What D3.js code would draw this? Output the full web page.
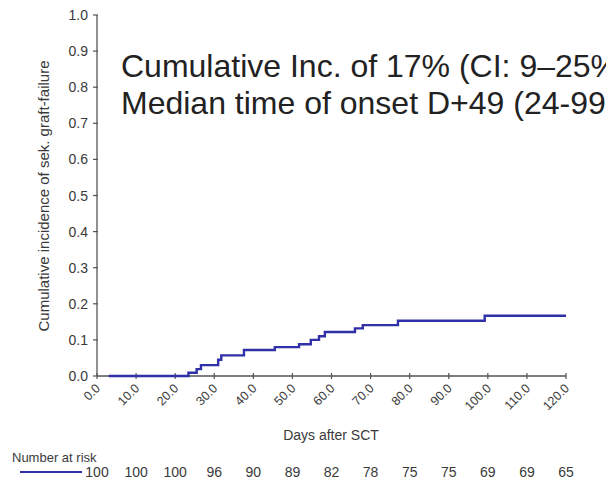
<!DOCTYPE html>
<html>
<head>
<meta charset="utf-8">
<script src="https://cdn.jsdelivr.net/npm/d3@7"></script>
<style>
  html, body { margin: 0; padding: 0; background: #fff; overflow: hidden; }
  svg { display: block; font-family: "Liberation Sans", Arial, sans-serif; }
</style>
</head>
<body>
<svg width="606" height="482"></svg>
<script>
// step points of the cumulative incidence curve
const days = [3, 23.4, 25.5, 26.6, 31.0, 31.8, 37.6, 45.5, 51.7, 54.7, 56.8, 58.3, 66, 68, 77, 99.2, 120];
const incidence = [0, 0.009, 0.019, 0.03, 0.045, 0.057, 0.072, 0.08, 0.088, 0.1, 0.11, 0.122, 0.132, 0.141, 0.153, 0.167, 0.167];

const xTicks = [0, 10, 20, 30, 40, 50, 60, 70, 80, 90, 100, 110, 120];
const yTicks = [0, 0.1, 0.2, 0.3, 0.4, 0.5, 0.6, 0.7, 0.8, 0.9, 1.0];
const atRisk = [100, 100, 100, 96, 90, 89, 82, 78, 75, 75, 69, 69, 65];

const noteLines = ["Cumulative Inc. of 17% (CI: 9\u201325%)", "Median time of onset D+49 (24-99)"];

const svg = d3.select("svg");

const x = d3.scaleLinear().domain([0, 120]).range([97, 566]);
const y = d3.scaleLinear().domain([0, 1]).range([376, 15]);

const axisColor = "#555";
const labelColor = "#3a3a3a";
const curveColor = "#3030a8";

// y axis
svg.append("line")
  .attr("x1", x(0)).attr("x2", x(0))
  .attr("y1", y(0)).attr("y2", y(1))
  .attr("stroke", axisColor).attr("stroke-width", 1.3);

svg.selectAll(".ytick")
  .data(yTicks)
  .enter()
  .append("line")
  .attr("x1", x(0) - 4).attr("x2", x(0) + 1)
  .attr("y1", d => y(d)).attr("y2", d => y(d))
  .attr("stroke", axisColor).attr("stroke-width", 1.2);

svg.selectAll(".ylab")
  .data(yTicks)
  .enter()
  .append("text")
  .attr("x", 88)
  .attr("y", d => y(d) + 5)
  .attr("text-anchor", "end")
  .attr("font-size", 14)
  .attr("fill", labelColor)
  .text(d => d.toFixed(1));

svg.append("text")
  .attr("transform", "translate(49,196) rotate(-90)")
  .attr("text-anchor", "middle")
  .attr("font-size", 15)
  .attr("fill", labelColor)
  .text("Cumulative incidence of sek. graft-failure");

// x axis
svg.append("line")
  .attr("x1", x(0)).attr("x2", x(120))
  .attr("y1", y(0)).attr("y2", y(0))
  .attr("stroke", axisColor).attr("stroke-width", 1.3);

svg.selectAll(".xtick")
  .data(xTicks)
  .enter()
  .append("line")
  .attr("x1", d => x(d)).attr("x2", d => x(d))
  .attr("y1", y(0) - 3).attr("y2", y(0) + 3)
  .attr("stroke", axisColor).attr("stroke-width", 1.2);

svg.selectAll(".xlab")
  .data(xTicks)
  .enter()
  .append("text")
  .attr("transform", d => `translate(${x(d) + 4},${y(0) + 13}) rotate(-45)`)
  .attr("text-anchor", "end")
  .attr("font-size", 12.5)
  .attr("fill", labelColor)
  .text(d => d.toFixed(1));

svg.append("text")
  .attr("x", 331)
  .attr("y", 440)
  .attr("text-anchor", "middle")
  .attr("font-size", 14)
  .attr("fill", labelColor)
  .text("Days after SCT");

// curve
const line = d3.line()
  .x((d, i) => x(days[i]))
  .y(d => y(d))
  .curve(d3.curveStepAfter);

svg.append("path")
  .attr("d", line(incidence))
  .attr("fill", "none")
  .attr("stroke", curveColor)
  .attr("stroke-width", 2.4);

// annotation
svg.selectAll(".note")
  .data(noteLines)
  .enter()
  .append("text")
  .attr("x", 121)
  .attr("y", (d, i) => 77 + i * 37)
  .attr("font-size", 32)
  .attr("fill", "#222")
  .text(d => d);

// number at risk
svg.append("text")
  .attr("x", 12)
  .attr("y", 462)
  .attr("font-size", 13)
  .attr("fill", labelColor)
  .text("Number at risk");

svg.append("line")
  .attr("x1", 20).attr("x2", 82)
  .attr("y1", 472).attr("y2", 472)
  .attr("stroke", curveColor).attr("stroke-width", 2);

svg.selectAll(".risk")
  .data(atRisk)
  .enter()
  .append("text")
  .attr("x", (d, i) => x(xTicks[i]))
  .attr("y", 477)
  .attr("text-anchor", "middle")
  .attr("font-size", 14)
  .attr("fill", labelColor)
  .text(d => d);
</script>
</body>
</html>
